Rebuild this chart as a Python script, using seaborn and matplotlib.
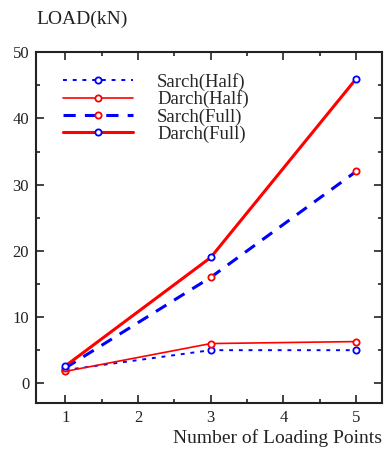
import matplotlib

matplotlib.use("Agg")

import matplotlib.pyplot as plt
import seaborn as sns
from matplotlib.ticker import MultipleLocator

loading_points = [1, 3, 5]
sarch_half = [2.0, 5.0, 5.0]
darch_half = [1.8, 6.0, 6.3]
sarch_full = [2.3, 16.0, 32.0]
darch_full = [2.6, 19.0, 46.0]

sns.set_style("ticks")
plt.rcParams["font.family"] = ["Liberation Serif", "DejaVu Serif"]

fig = plt.figure(figsize=(3.84, 4.54), dpi=100)
ax = fig.add_axes([0.094, 0.112, 0.9, 0.773])

common = dict(marker="o", markersize=4.5, markerfacecolor="white", markeredgewidth=1.3)
sns.lineplot(x=loading_points, y=sarch_half, ax=ax, color="blue", linestyle=(0, (2, 3)),
             linewidth=1.4, markeredgecolor="blue", label="Sarch(Half)", **common)
sns.lineplot(x=loading_points, y=darch_half, ax=ax, color="red", linestyle="-",
             linewidth=1.2, markeredgecolor="red", label="Darch(Half)", **common)
sns.lineplot(x=loading_points, y=sarch_full, ax=ax, color="blue", linestyle=(0, (4, 3)),
             linewidth=2.2, markeredgecolor="red", label="Sarch(Full)", **common)
sns.lineplot(x=loading_points, y=darch_full, ax=ax, color="red", linestyle="-",
             linewidth=2.2, markeredgecolor="blue", label="Darch(Full)", **common)

ax.set_xlim(0.6, 5.35)
ax.set_ylim(-3, 50)
ax.xaxis.set_major_locator(MultipleLocator(1))
ax.xaxis.set_minor_locator(MultipleLocator(0.5))
ax.yaxis.set_major_locator(MultipleLocator(10))
ax.yaxis.set_minor_locator(MultipleLocator(5))
ax.tick_params(which="both", direction="in", top=True, right=True, labelsize=12, colors="#222222")
ax.tick_params(which="major", length=6, width=1.2, pad=5)
ax.tick_params(which="minor", length=3, width=1.2)
for spine in ax.spines.values():
    spine.set_visible(True)
    spine.set_linewidth(1.5)
    spine.set_color("#222222")

ax.set_xlabel("")
ax.set_ylabel("")
fig.text(0.094, 0.957, "LOAD(kN)", fontsize=14, color="#222222", ha="left", va="center")
fig.text(0.995, 0.035, "Number of Loading Points", fontsize=14, color="#222222", ha="right", va="center")

ax.legend(loc="upper left", bbox_to_anchor=(0.03, 0.99), frameon=False, fontsize=13.5,
          handlelength=3.7, handletextpad=1.3, labelspacing=0.0)

fig.savefig("out.png", dpi=100)
